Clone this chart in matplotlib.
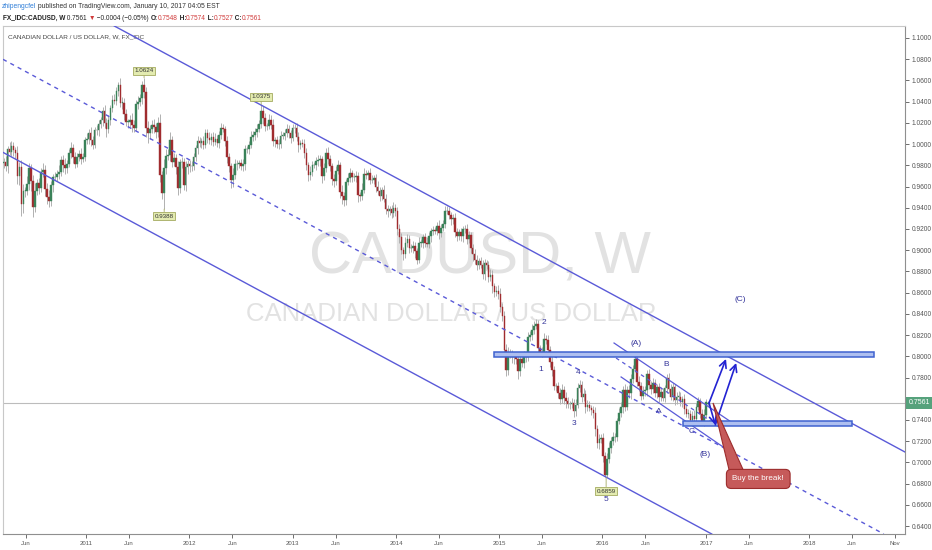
import numpy as np
import pandas as pd
import matplotlib
matplotlib.use("Agg")
import matplotlib.pyplot as plt
import matplotlib.dates as mdates
from matplotlib.patches import Rectangle, Polygon
from matplotlib.transforms import blended_transform_factory

plt.rcParams['font.family'] = ['Liberation Sans Narrow', 'Liberation Sans', 'DejaVu Sans']

# weekly closes of CAD/USD, in 1/10000 (week starting Monday, first week 2010-03-15)
c2010 = [9830, 9790, 9950, 9930, 9980, 9940, 9920, 9700, 9780, 9440,
         9560, 9560, 9620, 9770, 9650, 9410, 9560, 9630, 9590, 9740,
         9760, 9580, 9500, 9460, 9610, 9690, 9690, 9720, 9740, 9850,
         9800, 9770, 9810, 9920, 9960, 9880, 9810, 9880, 9910, 9860,
         9880, 10040]
c2011 = [10050, 10100, 10040, 9990, 10130, 10130, 10190, 10230, 10310, 10200,
         10140, 10230, 10340, 10420, 10410, 10500, 10560, 10390, 10390, 10280,
         10210, 10210, 10230, 10180, 10150, 10380, 10400, 10430, 10560, 10490,
         10150, 10100, 10140, 10180, 10160, 10110, 10200, 9710, 9540, 9770,
         9890, 9900, 10040, 9830, 9870, 9780, 9590, 9830, 9830, 9610,
         9780, 9810]
c2012 = [9790, 9790, 9880, 9960, 10030, 10010, 10030, 9990, 10100, 10060,
         10040, 10070, 10020, 10050, 10010, 10090, 10150, 10140, 10030, 9880,
         9790, 9660, 9710, 9810, 9810, 9820, 9790, 9810, 9950, 9950,
         9990, 10070, 10090, 10110, 10140, 10190, 10310, 10250, 10170, 10170,
         10230, 10180, 10030, 10040, 10000, 10000, 10080, 10080, 10100, 10140,
         10100, 10060, 10150]
c2013 = [10150, 10070, 9990, 10010, 10000, 9920, 9800, 9710, 9740, 9800,
         9800, 9840, 9850, 9860, 9700, 9770, 9920, 9860, 9790, 9670,
         9650, 9750, 9800, 9550, 9510, 9470, 9640, 9680, 9730, 9690,
         9690, 9700, 9520, 9510, 9570, 9720, 9710, 9730, 9660, 9660,
         9680, 9600, 9560, 9510, 9570, 9480, 9390, 9370, 9390, 9350,
         9400, 9370]
c2014 = [9200, 9120, 9000, 8960, 9070, 9110, 9020, 9020, 9040, 8990,
         8910, 9070, 9070, 9120, 9070, 9060, 9130, 9180, 9190, 9180,
         9230, 9160, 9210, 9250, 9370, 9370, 9330, 9290, 9300, 9170,
         9130, 9170, 9130, 9200, 9200, 9110, 9140, 9020, 8960, 8910,
         8860, 8900, 8860, 8780, 8880, 8860, 8750, 8770, 8660, 8610,
         8620, 8590]
c2015 = [8460, 8380, 8060, 7870, 8020, 8020, 7990, 7990, 7970, 7860,
         7970, 7940, 8000, 7990, 8180, 8200, 8250, 8290, 8300, 8080,
         8040, 8040, 8160, 8150, 8060, 7950, 7870, 7720, 7720, 7650,
         7600, 7680, 7610, 7580, 7550, 7550, 7560, 7480, 7540, 7700,
         7730, 7620, 7640, 7520, 7540, 7510, 7490, 7470, 7310, 7180,
         7220, 7230]
c2016 = [7060, 6880, 7030, 7140, 7200, 7240, 7240, 7390, 7470, 7520,
         7680, 7520, 7680, 7650, 7790, 7880, 7970, 7760, 7720, 7630,
         7670, 7680, 7830, 7730, 7690, 7750, 7650, 7710, 7620, 7660,
         7610, 7700, 7800, 7690, 7620, 7710, 7590, 7620, 7620, 7570,
         7600, 7500, 7460, 7460, 7400, 7440, 7410, 7520, 7580, 7460,
         7380, 7450]
c2017 = [7565, 7561]

# upper / lower wick lengths beyond the body, in 1/10000
u2010 = [40, 60, 30, 70, 50, 40, 30, 60, 50, 70, 60, 40, 80, 50, 40, 60, 70, 40, 50, 30,
         60, 40, 50, 70, 40, 30, 50, 40, 60, 40, 50, 70, 40, 30, 60, 40, 50, 40, 30, 50,
         40, 30]
d2010 = [50, 40, 60, 30, 40, 50, 60, 80, 90, 120, 90, 60, 40, 50, 90, 100, 50, 40, 60, 40,
         50, 70, 60, 50, 40, 60, 30, 40, 50, 40, 60, 50, 40, 30, 50, 60, 40, 30, 40, 50,
         30, 40]
u2011 = [50, 40, 60, 40, 30, 50, 40, 30, 40, 60, 50, 40, 30, 40, 50, 40, 23, 60, 50, 40,
         50, 30, 40, 60, 50, 40, 50, 40, 30, 64, 50, 70, 40, 50, 60, 40, 60, 80, 40, 90,
         60, 50, 70, 40, 50, 40, 60, 30, 50, 40, 60, 40]
d2011 = [40, 50, 60, 40, 30, 40, 50, 40, 60, 50, 70, 40, 50, 40, 30, 40, 50, 40, 60, 50,
         40, 60, 50, 70, 40, 30, 50, 40, 50, 60, 80, 90, 50, 40, 60, 50, 40, 70, 60, 152,
         50, 40, 60, 50, 40, 60, 70, 50, 60, 40, 50, 60]
u2012 = [40, 50, 40, 30, 50, 40, 30, 50, 40, 40, 50, 30, 40, 50, 40, 30, 50, 40, 30, 50,
         40, 30, 60, 50, 40, 30, 40, 50, 40, 30, 40, 50, 30, 40, 50, 40, 65, 50, 40, 30,
         50, 40, 60, 30, 40, 50, 40, 30, 40, 50, 40, 30, 40]
d2012 = [50, 40, 30, 40, 50, 40, 50, 40, 30, 50, 40, 50, 40, 30, 40, 50, 40, 30, 50, 60,
         50, 70, 60, 40, 50, 40, 30, 40, 50, 30, 40, 30, 40, 50, 40, 30, 40, 60, 50, 40,
         30, 40, 50, 60, 40, 50, 40, 30, 40, 30, 40, 50, 30]
u2013 = [40, 50, 40, 30, 40, 50, 40, 30, 50, 40, 30, 40, 50, 40, 30, 50, 40, 50, 40, 30,
         50, 40, 50, 30, 60, 40, 30, 50, 40, 30, 40, 50, 40, 30, 60, 50, 40, 30, 40, 50,
         30, 40, 50, 40, 30, 40, 50, 40, 30, 40, 50, 40]
d2013 = [50, 40, 60, 40, 30, 50, 40, 60, 50, 40, 30, 40, 50, 60, 70, 40, 30, 50, 40, 60,
         50, 40, 30, 60, 70, 50, 40, 30, 40, 50, 40, 50, 70, 50, 40, 30, 40, 50, 40, 30,
         40, 50, 40, 50, 40, 30, 50, 60, 40, 50, 40, 50]
u2014 = [40, 50, 40, 30, 50, 40, 30, 40, 50, 40, 30, 50, 40, 30, 40, 50, 40, 30, 40, 30,
         40, 50, 40, 30, 50, 50, 40, 30, 40, 50, 40, 30, 40, 30, 40, 50, 40, 30, 40, 50,
         40, 30, 40, 50, 40, 30, 40, 50, 40, 30, 40, 50]
d2014 = [60, 50, 40, 50, 30, 40, 50, 40, 50, 60, 40, 30, 40, 50, 40, 30, 40, 50, 40, 30,
         40, 50, 40, 30, 40, 30, 40, 50, 40, 50, 40, 30, 40, 50, 40, 50, 40, 50, 60, 40,
         50, 40, 30, 50, 60, 40, 50, 40, 60, 50, 40, 50]
u2015 = [50, 40, 50, 60, 70, 50, 40, 50, 40, 30, 50, 40, 50, 40, 50, 40, 50, 40, 48, 40,
         30, 50, 60, 40, 50, 40, 50, 40, 30, 40, 50, 60, 40, 50, 40, 30, 50, 40, 60, 50,
         50, 40, 60, 40, 50, 40, 30, 40, 50, 40, 50, 40]
d2015 = [40, 50, 40, 60, 50, 40, 50, 60, 40, 70, 50, 40, 50, 40, 30, 40, 50, 40, 30, 50,
         40, 50, 40, 30, 40, 50, 60, 40, 50, 40, 50, 40, 60, 70, 40, 50, 40, 50, 40, 30,
         40, 50, 40, 50, 40, 30, 40, 50, 60, 40, 50, 40]
u2016 = [50, 40, 60, 50, 40, 50, 40, 30, 40, 50, 40, 60, 40, 50, 40, 40, 40, 56, 50, 40,
         50, 40, 44, 50, 40, 50, 40, 30, 40, 50, 40, 30, 30, 40, 50, 40, 30, 40, 50, 40,
         30, 40, 50, 40, 30, 40, 50, 40, 40, 30, 40, 50]
d2016 = [60, 15, 21, 40, 50, 40, 50, 40, 30, 40, 50, 40, 30, 40, 50, 40, 30, 40, 50, 40,
         30, 40, 50, 40, 50, 40, 30, 40, 50, 40, 30, 40, 50, 40, 30, 40, 50, 40, 30, 40,
         50, 40, 30, 40, 50, 40, 30, 40, 30, 40, 20, 40]
u2017 = [30, 0]
d2017 = [30, 0]

first_open = 0.9820
# current bar, from the header
last_open, last_high, last_low, last_close = 0.7548, 0.7574, 0.7527, 0.7561

closes = np.array(c2010 + c2011 + c2012 + c2013 + c2014 + c2015 + c2016 + c2017) / 1e4
up = np.array(u2010 + u2011 + u2012 + u2013 + u2014 + u2015 + u2016 + u2017) / 1e4
dn = np.array(d2010 + d2011 + d2012 + d2013 + d2014 + d2015 + d2016 + d2017) / 1e4

n = len(closes)
dates = pd.date_range("2010-03-15", periods=n, freq="W-MON")
x = mdates.date2num(dates.to_pydatetime())
opens = np.r_[first_open, closes[:-1]]
opens[-1] = last_open
closes[-1] = last_close
highs = np.maximum(opens, closes) + up
lows = np.minimum(opens, closes) - dn
highs[-1] = last_high
lows[-1] = last_low

GREEN = "#3a8259"
RED = "#a02c2f"
CH = "#5a5ad8"
NAVY = "#34349a"


def d(s):
    return mdates.datestr2num(s)


fig = plt.figure(figsize=(9.32, 5.5), dpi=100)
fig.patch.set_facecolor("white")
ax = fig.add_axes([3 / 932, 16 / 550, 902 / 932, 508 / 550])

x0 = d("2010-03-13")
ax.set_xlim(x0, x0 + 3190)
ax.set_ylim(0.6325, 1.1113)

# watermark
wm = dict(transform=ax.transAxes, ha="center", va="center", color="#e2e2e2", zorder=0)
ax.text(0.529, 0.543, "CADUSD, W", fontsize=43, **wm)
ax.text(0.497, 0.433, "CANADIAN DOLLAR / US DOLLAR", fontsize=18.5, **wm)

# candles
rising = closes >= opens
colors = np.where(rising, GREEN, RED)
ax.vlines(x, lows, highs, color="#b0b0b0", lw=0.7, zorder=2)
body = np.maximum(np.abs(closes - opens), 0.0003)
ax.bar(x, body, bottom=np.minimum(opens, closes), width=5.8, color=colors,
       edgecolor=colors, lw=0.3, zorder=3)

# last price line
ax.axhline(last_close, color="#bcbcbc", lw=0.8, zorder=1)

# main channel
ax.axline((d("2011-04-17"), 1.1104), (d("2017-02-24"), 0.8031), color=CH, lw=1.0, zorder=4)
ax.axline((d("2010-03-17"), 0.9916), (d("2017-01-02"), 0.6353), color=CH, lw=1.0, zorder=4)
ax.axline((d("2010-03-17"), 1.0793), (d("2017-01-02"), 0.7227), color=CH, lw=1.0,
          ls=(0, (3, 3)), zorder=4)

# small channel after (A)
ax.plot([d("2016-02-11"), d("2017-03-31")], [0.8125, 0.7381], color=CH, lw=0.9, zorder=4)
ax.plot([d("2016-03-07"), d("2017-03-03")], [0.7805, 0.7145], color=CH, lw=0.9, zorder=4)
ax.plot([d("2016-02-18"), d("2017-03-21")], [0.7984, 0.7277], color=CH, lw=0.9,
        ls=(0, (3, 3)), zorder=4)

# horizontal zones
for start, end, lo in [("2014-12-14", "2018-08-18", 0.7993), ("2016-10-12", "2018-06-01", 0.7343)]:
    ax.add_patch(Rectangle((d(start), lo), d(end) - d(start), 0.0047,
                           facecolor="#aebff0", edgecolor="#3f62cf", lw=1.1, zorder=5))

# arrows
arr = dict(arrowstyle="->,head_length=0.5,head_width=0.25", color="#2323d2", lw=1.2,
           shrinkA=0, shrinkB=0)
ax.annotate("", xy=(d("2017-03-13"), 0.7975), xytext=(d("2017-01-12"), 0.7560), arrowprops=arr, zorder=6)
ax.annotate("", xy=(d("2017-02-03"), 0.7353), xytext=(d("2017-01-12"), 0.7560), arrowprops=arr, zorder=6)
ax.annotate("", xy=(d("2017-04-18"), 0.7937), xytext=(d("2017-02-03"), 0.7353), arrowprops=arr, zorder=6)

# callout
ax.add_patch(Polygon([(d("2017-01-26"), 0.7560), (d("2017-03-24"), 0.6928), (d("2017-05-13"), 0.6928)],
                     closed=True, facecolor="#c65a5a", edgecolor="#9c2c2c", lw=0.8, zorder=6))
ax.text(d("2017-07-05"), 0.6844, "Buy the break!", fontsize=5.8, color="white", ha="center",
        va="center", zorder=7,
        bbox=dict(boxstyle="round,pad=0.75,rounding_size=0.6", facecolor="#c65a5a",
                  edgecolor="#9c2c2c", lw=0.8))

# wave labels
waves = [("2", "2015-06-09", 0.8323), ("1", "2015-05-29", 0.7871), ("3", "2015-09-23", 0.7371),
         ("4", "2015-10-07", 0.7843), ("5", "2016-01-14", 0.6646), ("(A)", "2016-04-29", 0.8116),
         ("B", "2016-08-13", 0.7927), ("A", "2016-07-20", 0.7475), ("C", "2016-11-10", 0.7287),
         ("(B)", "2016-12-29", 0.7070), ("(C)", "2017-05-02", 0.8531)]
for lab, dt, pr in waves:
    ax.text(d(dt), pr, lab, fontsize=6, color=NAVY, ha="center", va="center", zorder=7)

# high / low price tags
tags = [("1.0624", "2011-07-25", 1.0624, 1.0689), ("1.0375", "2012-09-11", 1.0375, 1.0444),
        ("0.9388", "2011-10-04", 0.9388, 0.9322), ("0.6859", "2016-01-14", 0.6859, 0.6730)]
for lab, dt, pr, ty in tags:
    ax.annotate(lab, xy=(d(dt), pr), xytext=(d(dt), ty), fontsize=4.5, color="#333333",
                ha="center", va="center", zorder=8,
                bbox=dict(boxstyle="square,pad=0.25", facecolor="#e3ebb0", edgecolor="#a4aa60", lw=0.6),
                arrowprops=dict(arrowstyle="-", color="#a4aa60", lw=0.6, shrinkA=0, shrinkB=0))

# title inside the pane
ax.text(0.0055, 0.978, "CANADIAN DOLLAR / US DOLLAR, W, FX_IDC", transform=ax.transAxes,
        fontsize=4.6, color="#444444", ha="left", va="center")

# axes
ax.yaxis.tick_right()
yt = np.arange(0.64, 1.1001, 0.02)
ax.set_yticks(yt)
# the 0.7600 label sits under the last price tag
ax.set_yticklabels(["" if abs(v - 0.76) < 1e-6 else "%.4f" % v for v in yt])
xt = ["2010-06-01", "2011-01-01", "2011-06-01", "2012-01-01", "2012-06-01", "2013-01-01",
      "2013-06-01", "2014-01-01", "2014-06-01", "2015-01-01", "2015-06-01", "2016-01-01",
      "2016-06-01", "2017-01-01", "2017-06-01", "2018-01-01", "2018-06-01", "2018-11-01"]
xl = ["Jun", "2011", "Jun", "2012", "Jun", "2013", "Jun", "2014", "Jun", "2015", "Jun",
      "2016", "Jun", "2017", "Jun", "2018", "Jun", "Nov"]
ax.set_xticks([d(s) for s in xt])
ax.set_xticklabels(xl)
ax.tick_params(axis="y", labelsize=4.8, colors="#555555", length=3, width=0.6, pad=1.5)
ax.tick_params(axis="x", labelsize=4.3, colors="#555555", length=3, width=0.6, pad=2)
for side in ["left", "top"]:
    ax.spines[side].set_color("#c8c8c8")
    ax.spines[side].set_linewidth(0.8)
for side in ["right", "bottom"]:
    ax.spines[side].set_color("#8f8f8f")
    ax.spines[side].set_linewidth(0.8)

# last price tag on the scale
tr = blended_transform_factory(ax.transAxes, ax.transData)
ax.text(1.004, last_close, "%.4f" % last_close, transform=tr, fontsize=5.0, color="white",
        ha="left", va="center", zorder=9, clip_on=False,
        bbox=dict(boxstyle="square,pad=0.4", facecolor="#56a27c", edgecolor="none"))

# header lines
renderer = fig.canvas.get_renderer()


def put_line(x_px, y_frac, pieces, size):
    xp = x_px
    for txt, col, wt in pieces:
        t = fig.text(xp / 932, y_frac, txt, fontsize=size, color=col, fontweight=wt,
                     ha="left", va="center")
        xp = t.get_window_extent(renderer).x1


put_line(2, 0.989, [("zhipengcfel", "#2f7ed8", "normal"),
                    (" published on TradingView.com, January 10, 2017 04:05 EST", "#333333", "normal")], 4.9)
put_line(3, 0.967, [("FX_IDC:CADUSD, W", "#222222", "bold"), (" 0.7561 ", "#222222", "normal"),
                    ("\u25bc", "#d03a3a", "normal"), (" \u22120.0004 (\u22120.05%) ", "#222222", "normal"),
                    ("O:", "#222222", "bold"), ("0.7548", "#d03a3a", "normal"),
                    (" H:", "#222222", "bold"), ("0.7574", "#d03a3a", "normal"),
                    (" L:", "#222222", "bold"), ("0.7527", "#d03a3a", "normal"),
                    (" C:", "#222222", "bold"), ("0.7561", "#d03a3a", "normal")], 4.7)

fig.savefig("out.png", dpi=100)
